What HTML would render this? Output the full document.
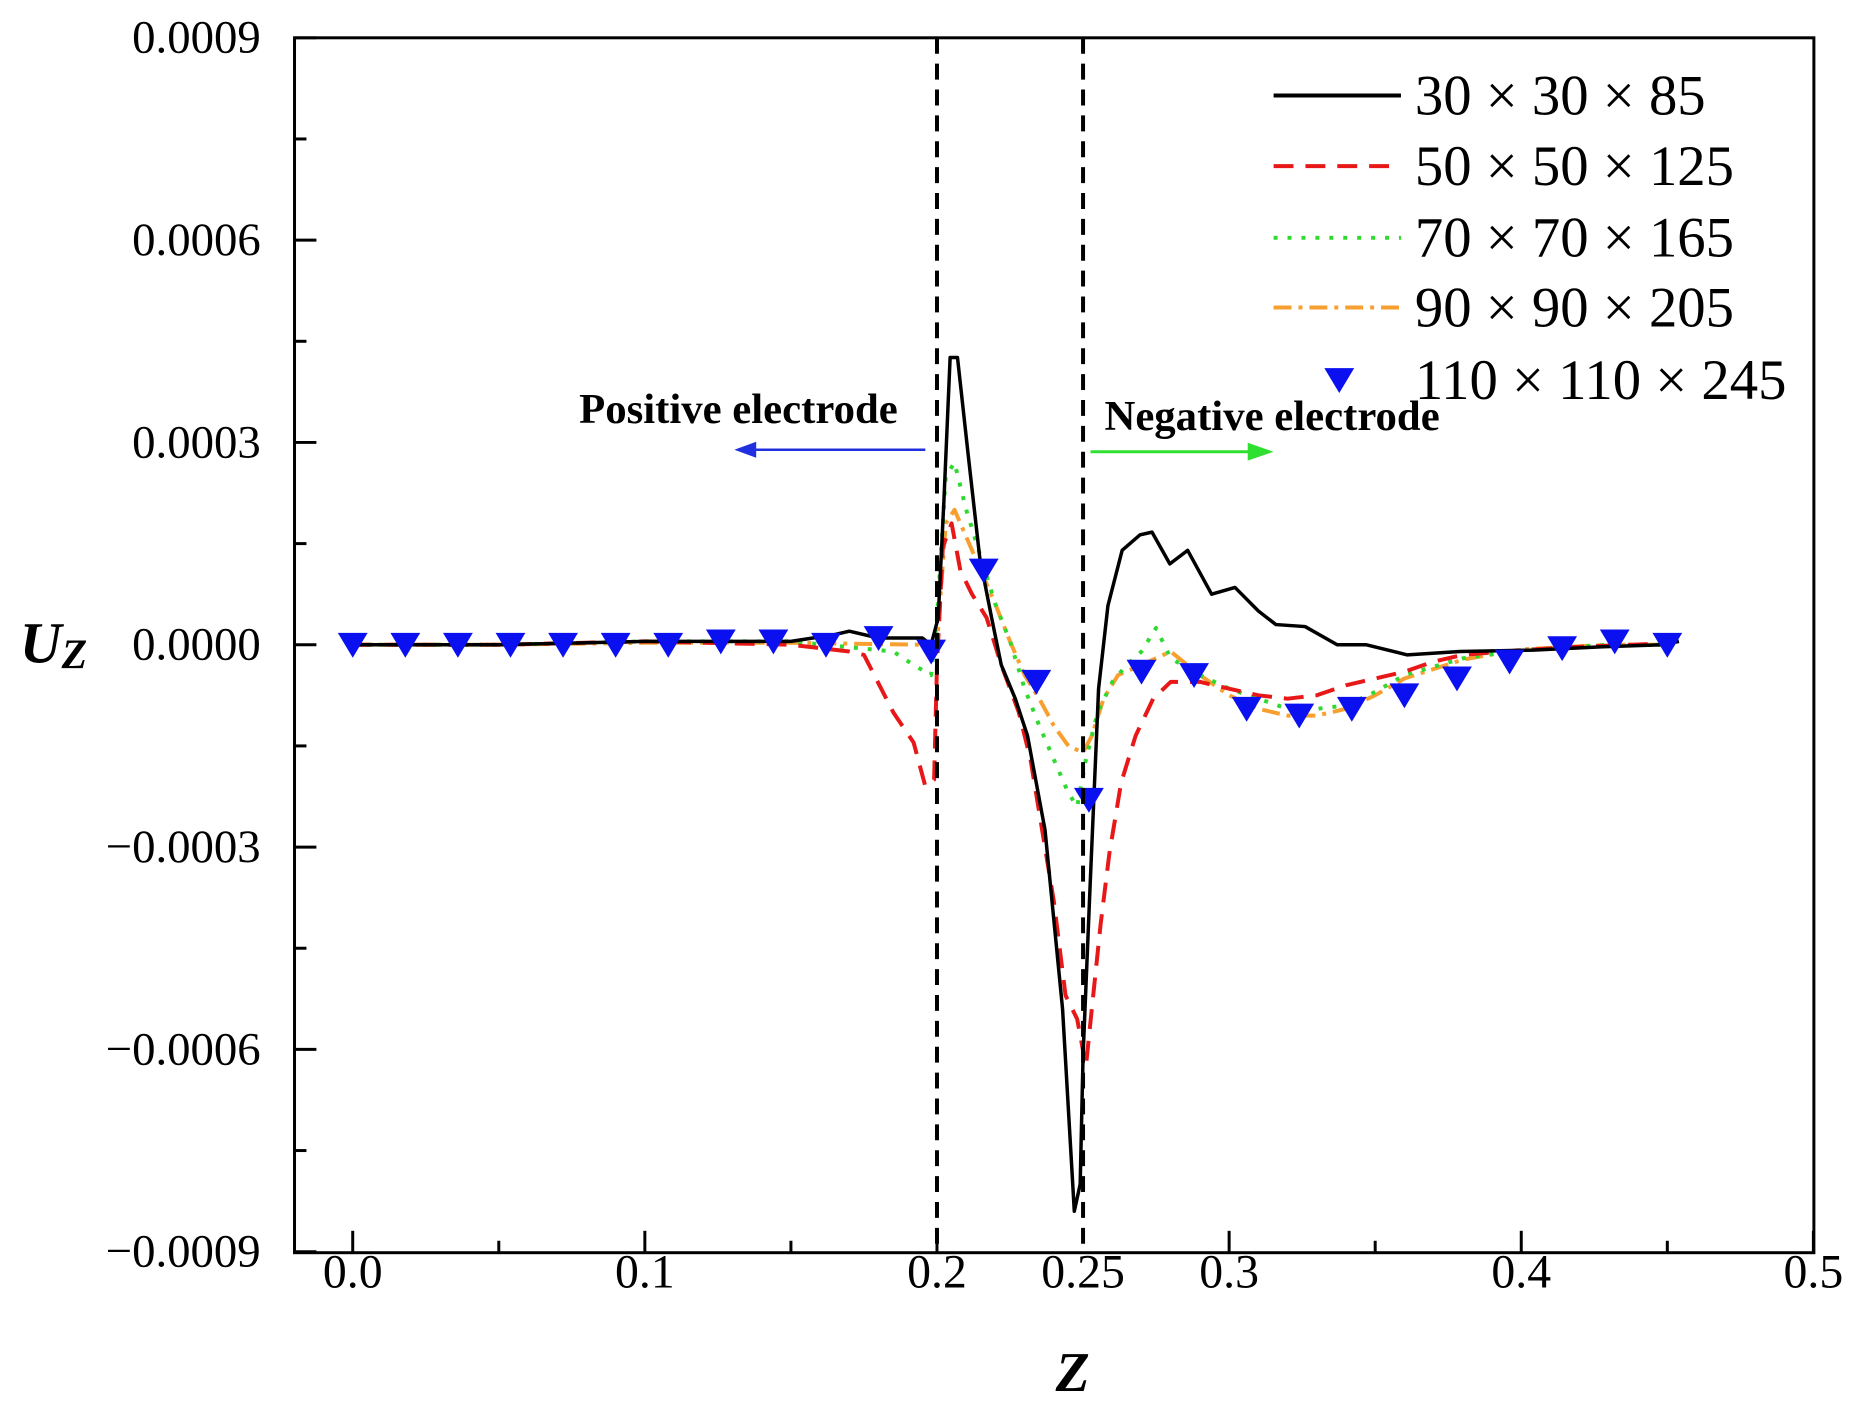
<!DOCTYPE html>
<html><head><meta charset="utf-8"><style>
html,body{margin:0;padding:0;background:#fff}
svg{display:block}
text{font-family:"Liberation Serif",serif}
</style></head><body>
<svg width="1862" height="1414" viewBox="0 0 1862 1414" xmlns="http://www.w3.org/2000/svg">
<g id="chart" transform="scale(0.995)">
<g id="plot"></g>
</g>
</svg>
<script>
const xTicks=[0,0.1,0.2,0.25,0.3,0.4,0.5];
const xTickLabels=["0.0","0.1","0.2","0.25","0.3","0.4","0.5"];
const yTicks=[9,6,3,0,-3,-6,-9];
const yTickLabels=["0.0009","0.0006","0.0003","0.0000","\u22120.0003","\u22120.0006","\u22120.0009"];
const seriesNames=["30 \u00d7 30 \u00d7 85","50 \u00d7 50 \u00d7 125","70 \u00d7 70 \u00d7 165","90 \u00d7 90 \u00d7 205","110 \u00d7 110 \u00d7 245"];
// values in units of 1e-4
const s30z=[0,0.05,0.1,0.15,0.165,0.17,0.18,0.195,0.198,0.2004,0.2024,0.2045,0.207,0.2106,0.2146,0.2187,0.222,0.2268,0.231,0.237,0.243,0.247,0.249,0.250,0.2524,0.2553,0.2585,0.2634,0.2695,0.2736,0.2797,0.2858,0.294,0.302,0.310,0.316,0.326,0.337,0.347,0.361,0.379,0.404,0.428,0.448,0.454];
const s30v=[0,0,0.05,0.05,0.15,0.2,0.1,0.1,0,0.4,2.15,4.26,4.26,2.85,1.3,0.4,-0.3,-0.8,-1.35,-2.75,-5.4,-8.4,-8.0,-6.1,-3.6,-0.65,0.58,1.4,1.63,1.67,1.2,1.4,0.75,0.85,0.5,0.3,0.27,0,0,-0.15,-0.1,-0.08,-0.03,0,0.05];
const s50z=[0,0.05,0.1,0.15,0.17,0.175,0.185,0.192,0.196,0.199,0.2,0.202,0.205,0.208,0.212,0.217,0.222,0.228,0.232,0.236,0.24,0.244,0.248,0.251,0.253,0.256,0.259,0.263,0.268,0.274,0.28,0.29,0.3,0.31,0.32,0.33,0.34,0.35,0.36,0.37,0.38,0.40,0.42,0.45];
const s50v=[0,0,0.05,0,-0.1,-0.15,-1.0,-1.45,-2.1,-2.0,-0.3,1.45,1.8,1.1,0.75,0.4,-0.3,-1.0,-1.7,-2.75,-3.8,-5.2,-5.55,-6.25,-5.4,-4.15,-3.1,-2.05,-1.35,-0.8,-0.55,-0.55,-0.65,-0.75,-0.8,-0.75,-0.6,-0.5,-0.4,-0.25,-0.15,-0.08,-0.03,0.02];
const s70z=[0,0.05,0.1,0.15,0.185,0.192,0.198,0.2,0.203,0.206,0.21,0.215,0.22,0.225,0.23,0.235,0.24,0.245,0.248,0.251,0.255,0.26,0.265,0.27,0.275,0.28,0.29,0.3,0.31,0.32,0.33,0.34,0.35,0.36,0.38,0.40,0.43,0.45];
const s70v=[0,0,0.05,0.05,-0.1,-0.3,-0.45,0.4,2.5,2.7,2.0,1.3,0.6,0.05,-0.65,-1.2,-1.7,-2.2,-2.4,-1.7,-1.0,-0.55,-0.3,-0.1,0.25,-0.2,-0.45,-0.65,-0.8,-0.95,-0.95,-0.9,-0.7,-0.45,-0.2,-0.08,0,0];
const s90z=[0,0.05,0.1,0.15,0.195,0.2,0.203,0.206,0.21,0.215,0.22,0.225,0.23,0.235,0.24,0.245,0.25,0.253,0.257,0.262,0.27,0.28,0.29,0.3,0.31,0.32,0.33,0.34,0.35,0.36,0.38,0.40,0.43,0.45];
const s90v=[0,0,0.03,0.03,0,0,1.8,2.0,1.6,1.1,0.6,0.05,-0.45,-0.8,-1.2,-1.5,-1.6,-1.35,-0.8,-0.45,-0.3,-0.1,-0.45,-0.75,-0.95,-1.05,-1.05,-0.95,-0.75,-0.5,-0.22,-0.07,0,0];
const s110z=[0,0.018,0.036,0.054,0.072,0.09,0.108,0.126,0.144,0.162,0.18,0.198,0.216,0.234,0.252,0.27,0.288,0.306,0.324,0.342,0.36,0.378,0.396,0.414,0.432,0.45];
const s110v=[0,0,0,0,0,0,0,0.05,0.05,0,0.1,-0.1,1.1,-0.55,-2.3,-0.4,-0.45,-0.95,-1.05,-0.95,-0.75,-0.5,-0.25,-0.05,0.05,0];

const L=296,R=1823,T=38,B=1259;
const X0=354.5,X1=1822.5;
function xs(z){return X0+(X1-X0)*z/0.5;}
function ys(v){return 648-(v/9)*610;}
const NS="http://www.w3.org/2000/svg";
const svg=document.getElementById('chart');
const plot=document.getElementById('plot');
function mk(tag,attrs,parent){const e=document.createElementNS(NS,tag);for(const k in attrs)e.setAttribute(k,attrs[k]);(parent||svg).appendChild(e);return e;}

let fr=mk('rect',{x:L,y:T,width:R-L,height:B-T,fill:'none',stroke:'#000','stroke-width':3});



xTicks.forEach((t,i)=>{
  const x=xs(t);
  if(t!==0.25){const tk=mk('line',{x1:x,x2:x,y1:B,y2:B-22,stroke:'#000','stroke-width':3});
  
  }
  const lb=mk('text',{x:x,y:B+35,'font-size':48,'text-anchor':'middle',fill:'#000'});
  lb.textContent=xTickLabels[i];
  
  
});
[0.05,0.15,0.35,0.45].forEach(t=>{
  const tk=mk('line',{x1:xs(t),x2:xs(t),y1:B,y2:B-12,stroke:'#000','stroke-width':3});
  
  
});
yTicks.forEach((t,i)=>{
  const y=ys(t);
  const tk=mk('line',{x1:L,x2:L+22,y1:y,y2:y,stroke:'#000','stroke-width':3});
  
  
  const lb=mk('text',{x:L-34,y:y+15,'font-size':47,'text-anchor':'end',fill:'#000'});
  lb.textContent=yTickLabels[i];
  
  
  if(i<yTicks.length-1){
    const m=mk('line',{x1:L,x2:L+12,y1:ys(t-1.5),y2:ys(t-1.5),stroke:'#000','stroke-width':3});
    
    
  }
});
let yt=mk('text',{x:20,y:666,'font-size':58,'font-weight':'bold','font-style':'italic',fill:'#000'});
yt.innerHTML='U<tspan font-size="42" dy="6">Z</tspan>';


let xt=mk('text',{x:1078,y:1398,'font-size':56,'font-weight':'bold','font-style':'italic','text-anchor':'middle',fill:'#000'});
xt.textContent='Z';



[0.2,0.25].forEach(t=>{
  const d=mk('line',{x1:xs(t),x2:xs(t),y1:T,y2:B,stroke:'#000','stroke-width':4,'stroke-dasharray':'16 10'});
  
  
});

function poly(zs,vs,attrs,name){
  const p=zs.map((z,i)=>xs(z).toFixed(1)+','+ys(vs[i]).toFixed(1)).join(' ');
  const e=mk('polyline',Object.assign({points:p,fill:'none','stroke-linejoin':'round'},attrs),plot);
  
  
}
poly(s90z,s90v,{stroke:'#f7a030','stroke-width':4,'stroke-dasharray':'18 7 4 7'},'series-90');
poly(s70z,s70v,{stroke:'#30d830','stroke-width':4,'stroke-dasharray':'4 10'},'series-70');
poly(s50z,s50v,{stroke:'#e81818','stroke-width':4,'stroke-dasharray':'20 12'},'series-50');
poly(s30z,s30v,{stroke:'#000','stroke-width':3.5},'series-30');
function tri(cx,cy,parent,name){
  const e=mk('polygon',{points:`${cx-15},${cy-12} ${cx+15},${cy-12} ${cx},${cy+13}`,fill:'#0a10f0'},parent);
  
  
}
s110z.forEach((z,i)=>tri(xs(z),ys(s110v[i]),plot,'series-110-marker'));

const legY=[96,167,239,309,382];
const legStyles=[{stroke:'#000','stroke-width':4},{stroke:'#e81818','stroke-width':4,'stroke-dasharray':'20 12'},{stroke:'#30d830','stroke-width':4,'stroke-dasharray':'4 10'},{stroke:'#f7a030','stroke-width':4,'stroke-dasharray':'18 7 4 7'}];
const lg=mk('g',{});


seriesNames.forEach((n,i)=>{
  const y=legY[i];
  if(i<4){const l=mk('line',Object.assign({x1:1280,x2:1408,y1:y,y2:y},legStyles[i]),lg);
    
    }
  else tri(1346,y,lg,'legend-swatch');
  const t=mk('text',{x:1422,y:y+19,'font-size':57,fill:'#000'},lg);
  t.textContent=n;
  
  
});

let pa=mk('text',{x:582,y:425,'font-size':43,'font-weight':'bold',fill:'#000'});
pa.textContent='Positive electrode';


let na=mk('text',{x:1110,y:432,'font-size':43,'font-weight':'bold',fill:'#000'});
na.textContent='Negative electrode';


let ba=mk('line',{x1:930,x2:755,y1:452,y2:452,stroke:'#2030e0','stroke-width':2.5});


let bh=mk('polygon',{points:'738,452 760,444 760,460',fill:'#2030e0'});


let ga=mk('line',{x1:1096,x2:1260,y1:454,y2:454,stroke:'#30e030','stroke-width':3});


let gh=mk('polygon',{points:'1280,454 1254,445 1254,463',fill:'#30e030'});


</script>
</body></html>
